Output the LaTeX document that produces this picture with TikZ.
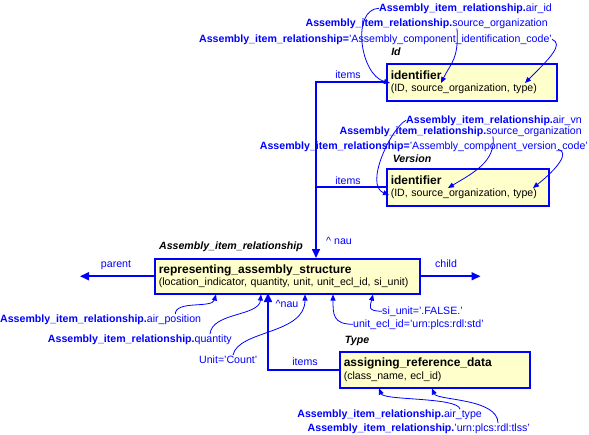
\documentclass[tikz,border=0pt]{standalone}
\usepackage{fontspec}
\setmainfont{Liberation Sans}
\usepackage{tikz}
\usetikzlibrary{calc,arrows.meta}

\definecolor{boxfill}{RGB}{255,255,204}
\newcommand{\air}{\textbf{Assembly\_item\_relationship}}
\newcommand{\ttl}[1]{{\fontsize{12}{14}\selectfont\bfseries #1}}

\begin{document}
\begin{tikzpicture}[x=1pt,y=-1pt,
    entity/.style={draw=blue,line width=1.5pt,fill=boxfill,anchor=north west,
      align=left,inner sep=4pt,font=\fontsize{10.6}{12.5}\selectfont},
    lbl/.style={text=blue,inner sep=0pt,font=\fontsize{10.6}{12}\selectfont},
    role/.style={inner sep=0pt,font=\fontsize{10.6}{12}\selectfont\bfseries\itshape},
    rel/.style={draw=blue,line width=1.6pt,-{Triangle[length=9pt,width=8pt]}},
    relline/.style={draw=blue,line width=1.6pt},
    fk/.style={draw=blue,line width=0.8pt,-{Triangle[length=6pt,width=5pt]}}]
            \useasboundingbox (0,0) rectangle (589,434);

            % entities
            \node[entity,minimum width=170pt,minimum height=37pt,text width=162pt] (id1) at (386,63)
              {\ttl{identifier}\\(ID, source\_organization, type)};
            \node[entity,minimum width=162pt,minimum height=37pt,text width=154pt] (id2) at (386,168)
              {\ttl{identifier}\\(ID, source\_organization, type)};
            \node[entity,minimum width=265pt,minimum height=35pt,text width=257pt] (ras) at (154,258)
              {\ttl{representing\_assembly\_structure}\\(location\_indicator, quantity, unit, unit\_ecl\_id, si\_unit)};
            \node[entity,minimum width=190pt,minimum height=36pt,text width=182pt] (ard) at (339,351)
              {\ttl{assigning\_reference\_data}\\(class\_name, ecl\_id)};

            % roles
            \node[role,anchor=base] (idrole) at (396,55) {Id};
            \node[role,anchor=base] (verrole) at (412,162) {Version};
            \node[role,anchor=base] (typerole) at (357,343) {Type};
            \node[role,anchor=base] (airrole) at (231,249) {Assembly\_item\_relationship};

            % relationship labels
            \node[lbl,anchor=base] (items1) at (348,78) {items};
            \node[lbl,anchor=base] (items2) at (348,184) {items};
            \node[lbl,anchor=base] (items3) at (305,365) {items};
            \node[lbl,anchor=base] (parentlbl) at (116,267) {parent};
            \node[lbl,anchor=base] (childlbl) at (446,267) {child};
            \node[lbl,anchor=base] (nau1) at (339,244) {\textasciicircum\ nau};
            \node[lbl,anchor=base] (nau2) at (287,307) {\textasciicircum nau};

            % attribute labels
            \node[lbl,anchor=base east] (airid) at (552,11) {\air\textbf{.}air\_id};
            \node[lbl,anchor=base east] (srcorg1) at (548,26) {\air\textbf{.}source\_organization};
            \node[lbl,anchor=base east] (code1) at (552,42) {\air\textbf{=}'Assembly\_component\_identification\_code'};
            \node[lbl,anchor=base east] (airvn) at (582,123) {\air\textbf{.}air\_vn};
            \node[lbl,anchor=base east] (srcorg2) at (582,134) {\air\textbf{.}source\_organization};
            \node[lbl,anchor=base east] (code2) at (588,149) {\air\textbf{=}'Assembly\_component\_version\_code'};
            \node[lbl,anchor=base west] (airpos) at (0,322) {\air\textbf{.}air\_position};
            \node[lbl,anchor=base east] (qty) at (232,342) {\air\textbf{.}quantity};
            \node[lbl,anchor=base west] (unitcount) at (199,363) {Unit='Count'};
            \node[lbl,anchor=base west] (siunit) at (382,314) {si\_unit='.FALSE.'};
            \node[lbl,anchor=base west] (uecl) at (353,327) {unit\_ecl\_id='urn:plcs:rdl:std'};
            \node[lbl,anchor=base east] (airtype) at (482,417) {\air\textbf{.}air\_type};
            \node[lbl,anchor=base east] (tlss) at (530,431) {\air\textbf{.}'urn:plcs:rdl:tlss'};

            % relationships
            \coordinate (trunk) at (316,83);
            \coordinate (typeup) at (268,293);
            \draw[rel] (id1.west) -- (id1.west -| trunk) -- (trunk |- ras.north);
            \draw[relline] (id2.west) -- (id2.west -| trunk);
            \draw[rel] (ard.west) -| (typeup);
            \draw[rel] (ras.west) -- ($(ras.west)+(-74,0)$);
            \draw[rel] (ras.east) -- ($(ras.east)+(60,0)$);

            % attribute mappings
            \draw[fk] (airid.west) .. controls +(-28,1) and +(-30,-8) .. ($(id1.north west)+(4,20)$);
            \draw[fk] ($(srcorg1.south east)+(-91,0)$) .. controls +(2,30) and +(10,-20) .. ($(id1.north west)+(55,20)$);
            \draw[fk] (code1.east) .. controls +(12,5) and +(25,-25) .. ($(id1.north west)+(139,20)$);
            \draw[fk] (airvn.west) .. controls +(-15,8) and +(-25,-10) .. ($(id2.north west)+(3,27)$);
            \draw[fk] ($(srcorg2.south east)+(-89,0)$) .. controls +(3,25) and +(25,-15) .. ($(id2.north west)+(62,20)$);
            \draw[fk] ($(code2.east)+(-30,3)$) .. controls +(12,3) and +(25,-20) .. ($(id2.north west)+(147,20)$);
            \draw[fk] ($(airpos.north east)+(-26,0)$) .. controls +(0,-14) and +(-4,14) .. ($(ras.south west)+(62,0)$);
            \draw[fk] ($(qty.north east)+(-22,0)$) .. controls +(2,-22) and +(-2,22) .. ($(ras.south west)+(107,0)$);
            \draw[fk] ($(unitcount.north west)+(34,0)$) .. controls +(5,-25) and +(0,40) .. ($(ras.south west)+(151,0)$);
            \draw[fk] (uecl.west) .. controls +(-20,0) and +(0,20) .. ($(ras.south west)+(179,0)$);
            \draw[fk] (siunit.west) .. controls +(-15,0) and +(-3,12) .. ($(ras.south west)+(219,0)$);
            \draw[fk] ($(airtype.north east)+(-22,0)$) .. controls +(-2,-12) and +(5,12) .. ($(ard.south west)+(40,0)$);
            \draw[fk] ($(tlss.north east)+(-32,0)$) .. controls +(0,-25) and +(5,12) .. ($(ard.south west)+(93,0)$);
          \end{tikzpicture}
\end{document}
